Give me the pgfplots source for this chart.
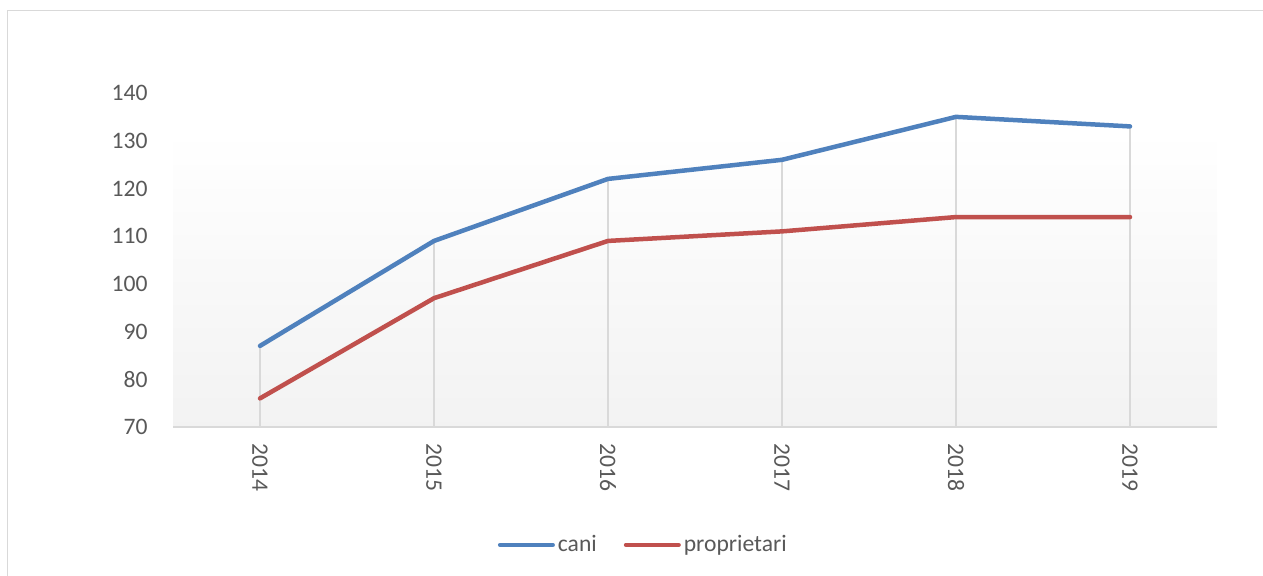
\documentclass[border=0pt]{standalone}
\usepackage{fontspec}
\setmainfont{Carlito}
\usepackage{pgfplots}
\pgfplotsset{compat=1.18}
\definecolor{cblue}{HTML}{4F81BD}
\definecolor{cred}{HTML}{C0504D}
\definecolor{lgray}{HTML}{D9D9D9}
\definecolor{tgray}{HTML}{595959}
\begin{document}
\begin{tikzpicture}
\useasboundingbox (0,0) rectangle (631.5pt,-287.5pt);
\draw[lgray, line width=0.75pt] (3.75pt,-400pt) -- (3.75pt,-5.25pt) -- (700pt,-5.25pt);
\begin{axis}[
  at={(86.5pt,-213.5pt)}, anchor=south west,
  scale only axis, width=522pt, height=167pt,
  xmin=-0.5, xmax=5.5, ymin=70, ymax=140,
  xtick={0,...,5}, xticklabels={2014,2015,2016,2017,2018,2019},
  ytick={70,80,...,140},
  axis lines*=left,
  x axis line style={draw=none},
  y axis line style={draw=none},
  major tick length=0pt,
  tick label style={font=\fontsize{11.8}{14}\selectfont, text=tgray},
  /pgf/number format/assume math mode=true,
  yticklabel style={anchor=east, inner sep=0pt, xshift=-12.5pt},
  xticklabel style={rotate=-90, anchor=west, inner sep=0pt, xshift=8pt},
  legend style={at={(0.451,-0.353)}, anchor=center, draw=none, fill=none,
    legend columns=2, font=\fontsize{11.8}{14}\selectfont, text=tgray,
    /tikz/every even column/.append style={column sep=12pt},
    nodes={inner sep=1.5pt}},
  legend image code/.code={\draw[#1, line width=2pt, line cap=round] (0pt,0pt) -- (26.5pt,0pt);},
]
\fill[top color=white, bottom color=gray!10] (axis cs:-0.5,70) rectangle (axis cs:5.5,132.25);
\addplot[ycomb, lgray, line width=0.75pt, forget plot] coordinates {(0,87) (1,109) (2,122) (3,126) (4,135) (5,133)};
\draw[lgray, line width=0.9pt] (axis cs:-0.5,70) -- (axis cs:5.5,70);
\addplot[cblue, line width=2.25pt, line join=round, line cap=round] coordinates {(0,87) (1,109) (2,122) (3,126) (4,135) (5,133)};
\addlegendentry{cani}
\addplot[cred, line width=2.25pt, line join=round, line cap=round] coordinates {(0,76) (1,97) (2,109) (3,111) (4,114) (5,114)};
\addlegendentry{proprietari}
\end{axis}
\end{tikzpicture}
\end{document}
